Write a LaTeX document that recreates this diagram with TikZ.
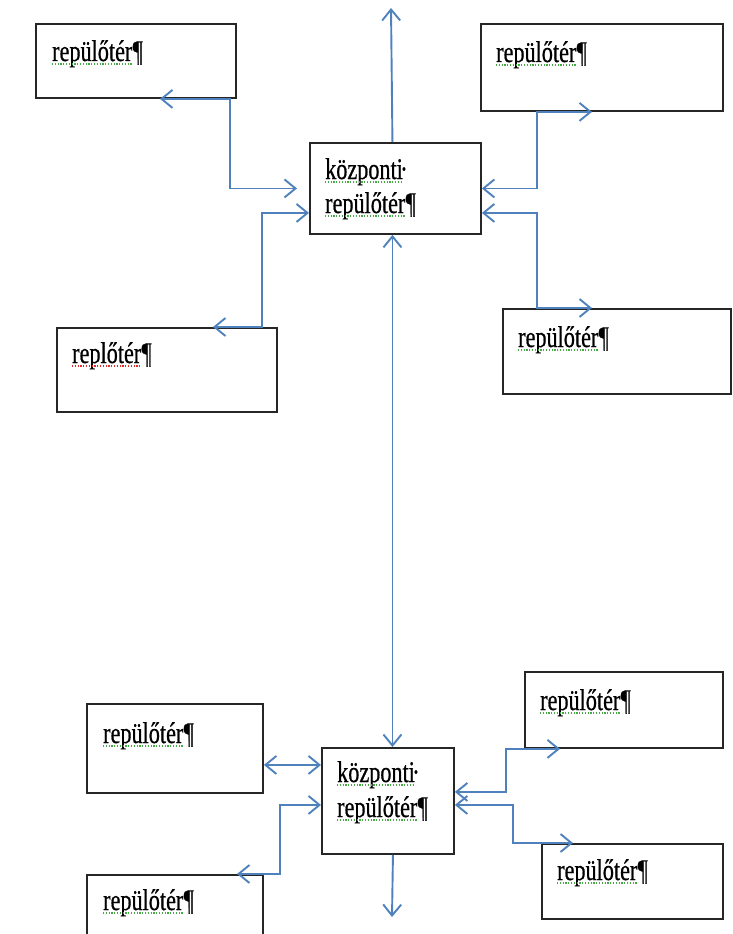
\documentclass[tikz,border=0pt]{standalone}
\usepackage{fontspec}
\setmainfont{Liberation Serif}[FakeStretch=0.74, FakeBold=0.6]
\usetikzlibrary{arrows.meta}
\definecolor{vonalkek}{RGB}{79,129,189}
\definecolor{spellzold}{RGB}{70,170,70}
\definecolor{spellpiros}{RGB}{225,45,45}

\begin{document}
\begin{tikzpicture}[x=1pt, y=-1pt,
  doboz/.style={draw=black!85, line width=1.9pt, rectangle, anchor=north west, inner sep=0pt},
  felirat/.style={anchor=base west, inner sep=0pt, font=\fontsize{30}{34}\selectfont},
  jel/.style={felirat, inner sep=0pt},
  zoldalahuz/.style={draw=spellzold, line width=1.2pt, dash pattern=on 1.2pt off 1.6pt},
  pirosalahuz/.style={draw=spellpiros, line width=1.2pt, dash pattern=on 1.2pt off 1.6pt},
  kapcs/.style={draw=vonalkek, line width=1.9pt, {Straight Barb[length=11pt,width=18pt]}-{Straight Barb[length=11pt,width=18pt]}},
  egyiranyu/.style={draw=vonalkek, line width=1.9pt, -{Straight Barb[length=11pt,width=18pt]}}
]
\useasboundingbox (0,0) rectangle (732,934);

% felso kozponti repuloter es tarsai
\node[doboz, minimum width=171pt, minimum height=91pt] (kp1) at (309,142) {};
\node[felirat] (kp1a) at (325,179) {központi};
\node[jel] (kp1ap) at ([xshift=-3pt]kp1a.base east) {·};
\node[felirat] (kp1b) at (325,213) {repülőtér};
\node[jel] (kp1bp) at (kp1b.base east) {¶};

\node[doboz, minimum width=200pt, minimum height=74pt] (rt1) at (35,23) {};
\node[felirat] (rt1t) at (52,61) {repülőtér};
\node[jel] (rt1p) at (rt1t.base east) {¶};
\node[doboz, minimum width=242pt, minimum height=87pt] (rt2) at (480,23) {};
\node[felirat] (rt2t) at (496,62) {repülőtér};
\node[jel] (rt2p) at (rt2t.base east) {¶};
\node[doboz, minimum width=220pt, minimum height=84pt] (rt3) at (56,327) {};
\node[felirat] (rt3t) at (72,363) {replőtér};
\node[jel] (rt3p) at (rt3t.base east) {¶};
\node[doboz, minimum width=228pt, minimum height=85pt] (rt4) at (502,308) {};
\node[felirat] (rt4t) at (518,347) {repülőtér};
\node[jel] (rt4p) at (rt4t.base east) {¶};

% also kozponti repuloter es tarsai
\node[doboz, minimum width=132pt, minimum height=106pt] (kp2) at (321,747) {};
\node[felirat] (kp2a) at (337,782) {központi};
\node[jel] (kp2ap) at ([xshift=-3pt]kp2a.base east) {·};
\node[felirat] (kp2b) at (337,817) {repülőtér};
\node[jel] (kp2bp) at (kp2b.base east) {¶};

\node[doboz, minimum width=176pt, minimum height=89pt] (rt5) at (86,703) {};
\node[felirat] (rt5t) at (103,743) {repülőtér};
\node[jel] (rt5p) at (rt5t.base east) {¶};
\node[doboz, minimum width=176pt, minimum height=80pt] (rt6) at (86,874) {};
\node[felirat] (rt6t) at (103,910) {repülőtér};
\node[jel] (rt6p) at (rt6t.base east) {¶};
\node[doboz, minimum width=198pt, minimum height=76pt] (rt7) at (524,671) {};
\node[felirat] (rt7t) at (540,710) {repülőtér};
\node[jel] (rt7p) at (rt7t.base east) {¶};
\node[doboz, minimum width=181pt, minimum height=75pt] (rt8) at (541,843) {};
\node[felirat] (rt8t) at (557,880) {repülőtér};
\node[jel] (rt8p) at (rt8t.base east) {¶};

% helyesirasi alahuzasok
\foreach \n in {kp1a,kp1b,rt1t,rt2t,rt4t,kp2a,kp2b,rt5t,rt6t,rt7t,rt8t}
  \draw[zoldalahuz] ([yshift=-3pt]\n.base west) -- ([yshift=-3pt]\n.base east);
\draw[pirosalahuz] ([yshift=-3pt]rt3t.base west) -- ([yshift=-3pt]rt3t.base east);

\coordinate (fel) at (391,8);
\coordinate (le) at (392,917);

% kapcsolatok
\draw[egyiranyu] ([xshift=-3pt]kp1.north) -- (fel);
\draw[kapcs] ([xshift=125pt]rt1.south west) -- ([xshift=-7pt]rt1.south east) |- ([xshift=-12pt]kp1.west);
\draw[kapcs] ([xshift=157pt]rt3.north west) -- ([xshift=-16pt]rt3.north east) |- ([yshift=-24.5pt]kp1.west);
\draw[kapcs] ([xshift=112pt]rt2.south west) -- ([xshift=57pt]rt2.south west) |- (kp1.east);
\draw[kapcs] ([xshift=90pt]rt4.north west) -- ([xshift=35pt]rt4.north west) |- ([yshift=-24.5pt]kp1.east);
\draw[kapcs] ([xshift=-3pt]kp1.south) -- ([xshift=-3pt]kp1.south |- kp2.north);

\draw[egyiranyu] ([xshift=5pt]kp2.south) -- (le);
\draw[kapcs] ([yshift=-16.5pt]rt5.east) -- ([yshift=-16.5pt]rt5.east -| kp2.west);
\draw[kapcs] ([xshift=151pt]rt6.north west) -- ([xshift=16pt]rt6.north east) |- ([yshift=-4pt]kp2.west);
\draw[kapcs] ([yshift=9pt]kp2.east) -| ([xshift=-18pt]rt7.south west) -- ([xshift=36pt]rt7.south west);
\draw[kapcs] ([yshift=-4pt]kp2.east) -| ([xshift=-28pt]rt8.north west) -- ([xshift=32pt]rt8.north west);
\end{tikzpicture}
\end{document}
